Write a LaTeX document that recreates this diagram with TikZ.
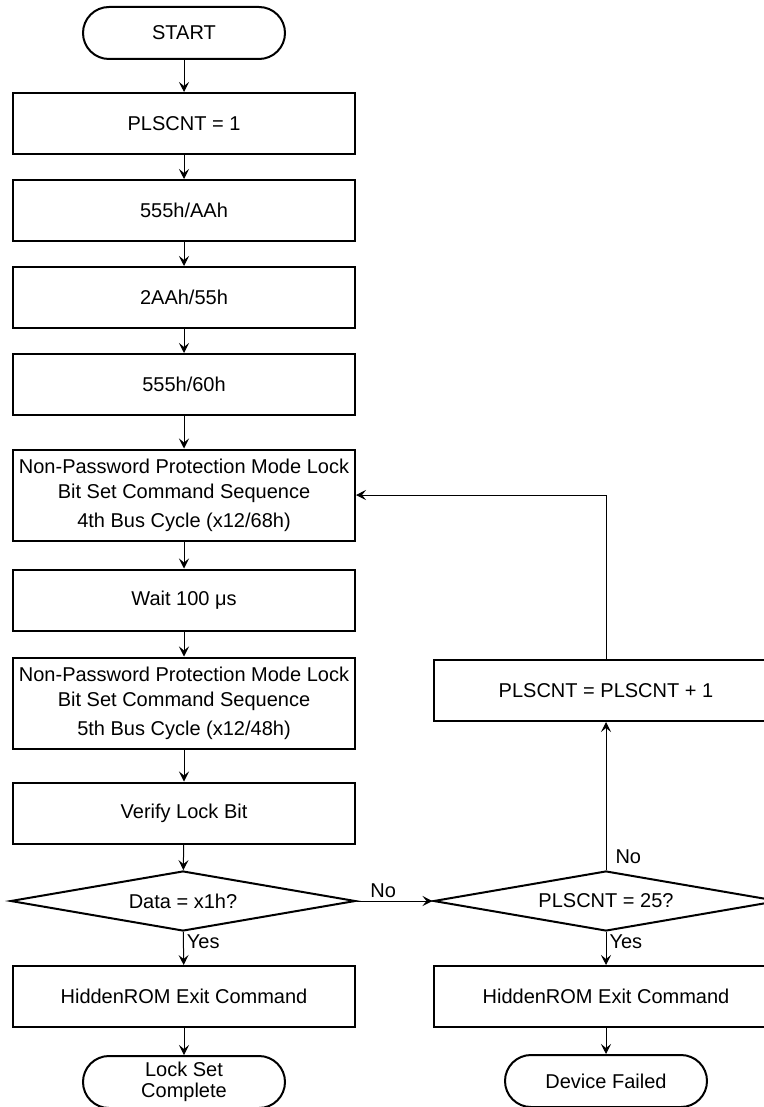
\documentclass[tikz,border=0pt]{standalone}
\usepackage{fontspec}
\setmainfont{Liberation Sans}
\usetikzlibrary{arrows.meta,positioning,shapes.geometric}

\begin{document}
\begin{tikzpicture}[x=0.5pt,y=-0.5pt,
    font=\fontsize{10}{12.5}\selectfont,
    flowbox/.style={draw,line width=1pt,minimum width=171pt,minimum height=30.5pt,align=center,inner sep=1pt},
    tallbox/.style={flowbox,minimum height=45.5pt},
    termbox/.style={draw,line width=1pt,rounded corners=13pt,minimum width=101pt,minimum height=26pt,align=center,inner sep=1pt},
    decision/.style={draw,diamond,shape aspect=5.75,line width=1pt,minimum width=172.5pt,minimum height=30pt,inner sep=0pt},
    flowline/.style={line width=0.5pt,-{Stealth[length=5pt,width=5pt,inset=2pt]}},
    lbl/.style={inner sep=1.5pt}]
  \useasboundingbox (0,0) rectangle (764,1107);
  % Start
  \node[termbox] (start) at (184,33) {START};
  % Box 1
  \node[flowbox] (pls) at (184,123.5) {PLSCNT = 1};
  % Box 2
  \node[flowbox] (cmdA) at (184,210.5) {555h/AAh};
  % Box 3
  \node[flowbox] (cmdB) at (184,297.5) {2AAh/55h};
  % Box 4
  \node[flowbox] (cmdC) at (184,384.5) {555h/60h};
  % Box 5
  \node[tallbox] (nplA) at (184,495) {Non-Password Protection Mode Lock\\Bit Set Command Sequence\\[2pt]4th Bus Cycle (x12/68h)};
  % Box 6
  \node[flowbox] (wait) at (184,600) {Wait 100 μs};
  % Box 7
  \node[tallbox] (nplB) at (184,703) {Non-Password Protection Mode Lock\\Bit Set Command Sequence\\[2pt]5th Bus Cycle (x12/48h)};
  % Box 8
  \node[flowbox] (verify) at (184,813) {Verify Lock Bit};
  % Decision 1
  \node[decision] (dataq) at (183,901) {Data = x1h?};
  % Box 9
  \node[flowbox] (exitL) at (184,996.5) {HiddenROM Exit Command};
  % End 1
  \node[termbox] (done) at (184,1082) {Lock Set\\[-2pt]Complete};
  % Right column
  \node[flowbox,minimum width=172pt] (incr) at (606,690.5) {PLSCNT = PLSCNT + 1};
  \node[decision] (cntq) at (606,901) {PLSCNT = 25?};
  \node[flowbox,minimum width=172pt] (exitR) at (606,996.5) {HiddenROM Exit Command};
  \node[termbox] (fail) at (606,1081) {Device Failed};
  % Connectors
  \draw[flowline] (start) -- (pls);
  \draw[flowline] (pls) -- (cmdA);
  \draw[flowline] (cmdA) -- (cmdB);
  \draw[flowline] (cmdB) -- (cmdC);
  \draw[flowline] (cmdC) -- (nplA);
  \draw[flowline] (nplA) -- (wait);
  \draw[flowline] (wait) -- (nplB);
  \draw[flowline] (nplB) -- (verify);
  \draw[flowline] (verify) -- (dataq);
  \draw[flowline] (dataq) -- node[lbl,right,pos=0.3] {Yes} (exitL);
  \draw[flowline] (exitL) -- (done);
  \draw[flowline] (dataq) -- node[lbl,above,pos=0.35] {No} (cntq);
  \draw[flowline] (cntq) -- node[lbl,right,pos=0.09,xshift=3pt] {No} (incr);
  \draw[flowline] (incr.north) |- (nplA.east);
  \draw[flowline] (cntq) -- node[lbl,right,pos=0.3] {Yes} (exitR);
  \draw[flowline] (exitR) -- (fail);
\end{tikzpicture}
\end{document}
